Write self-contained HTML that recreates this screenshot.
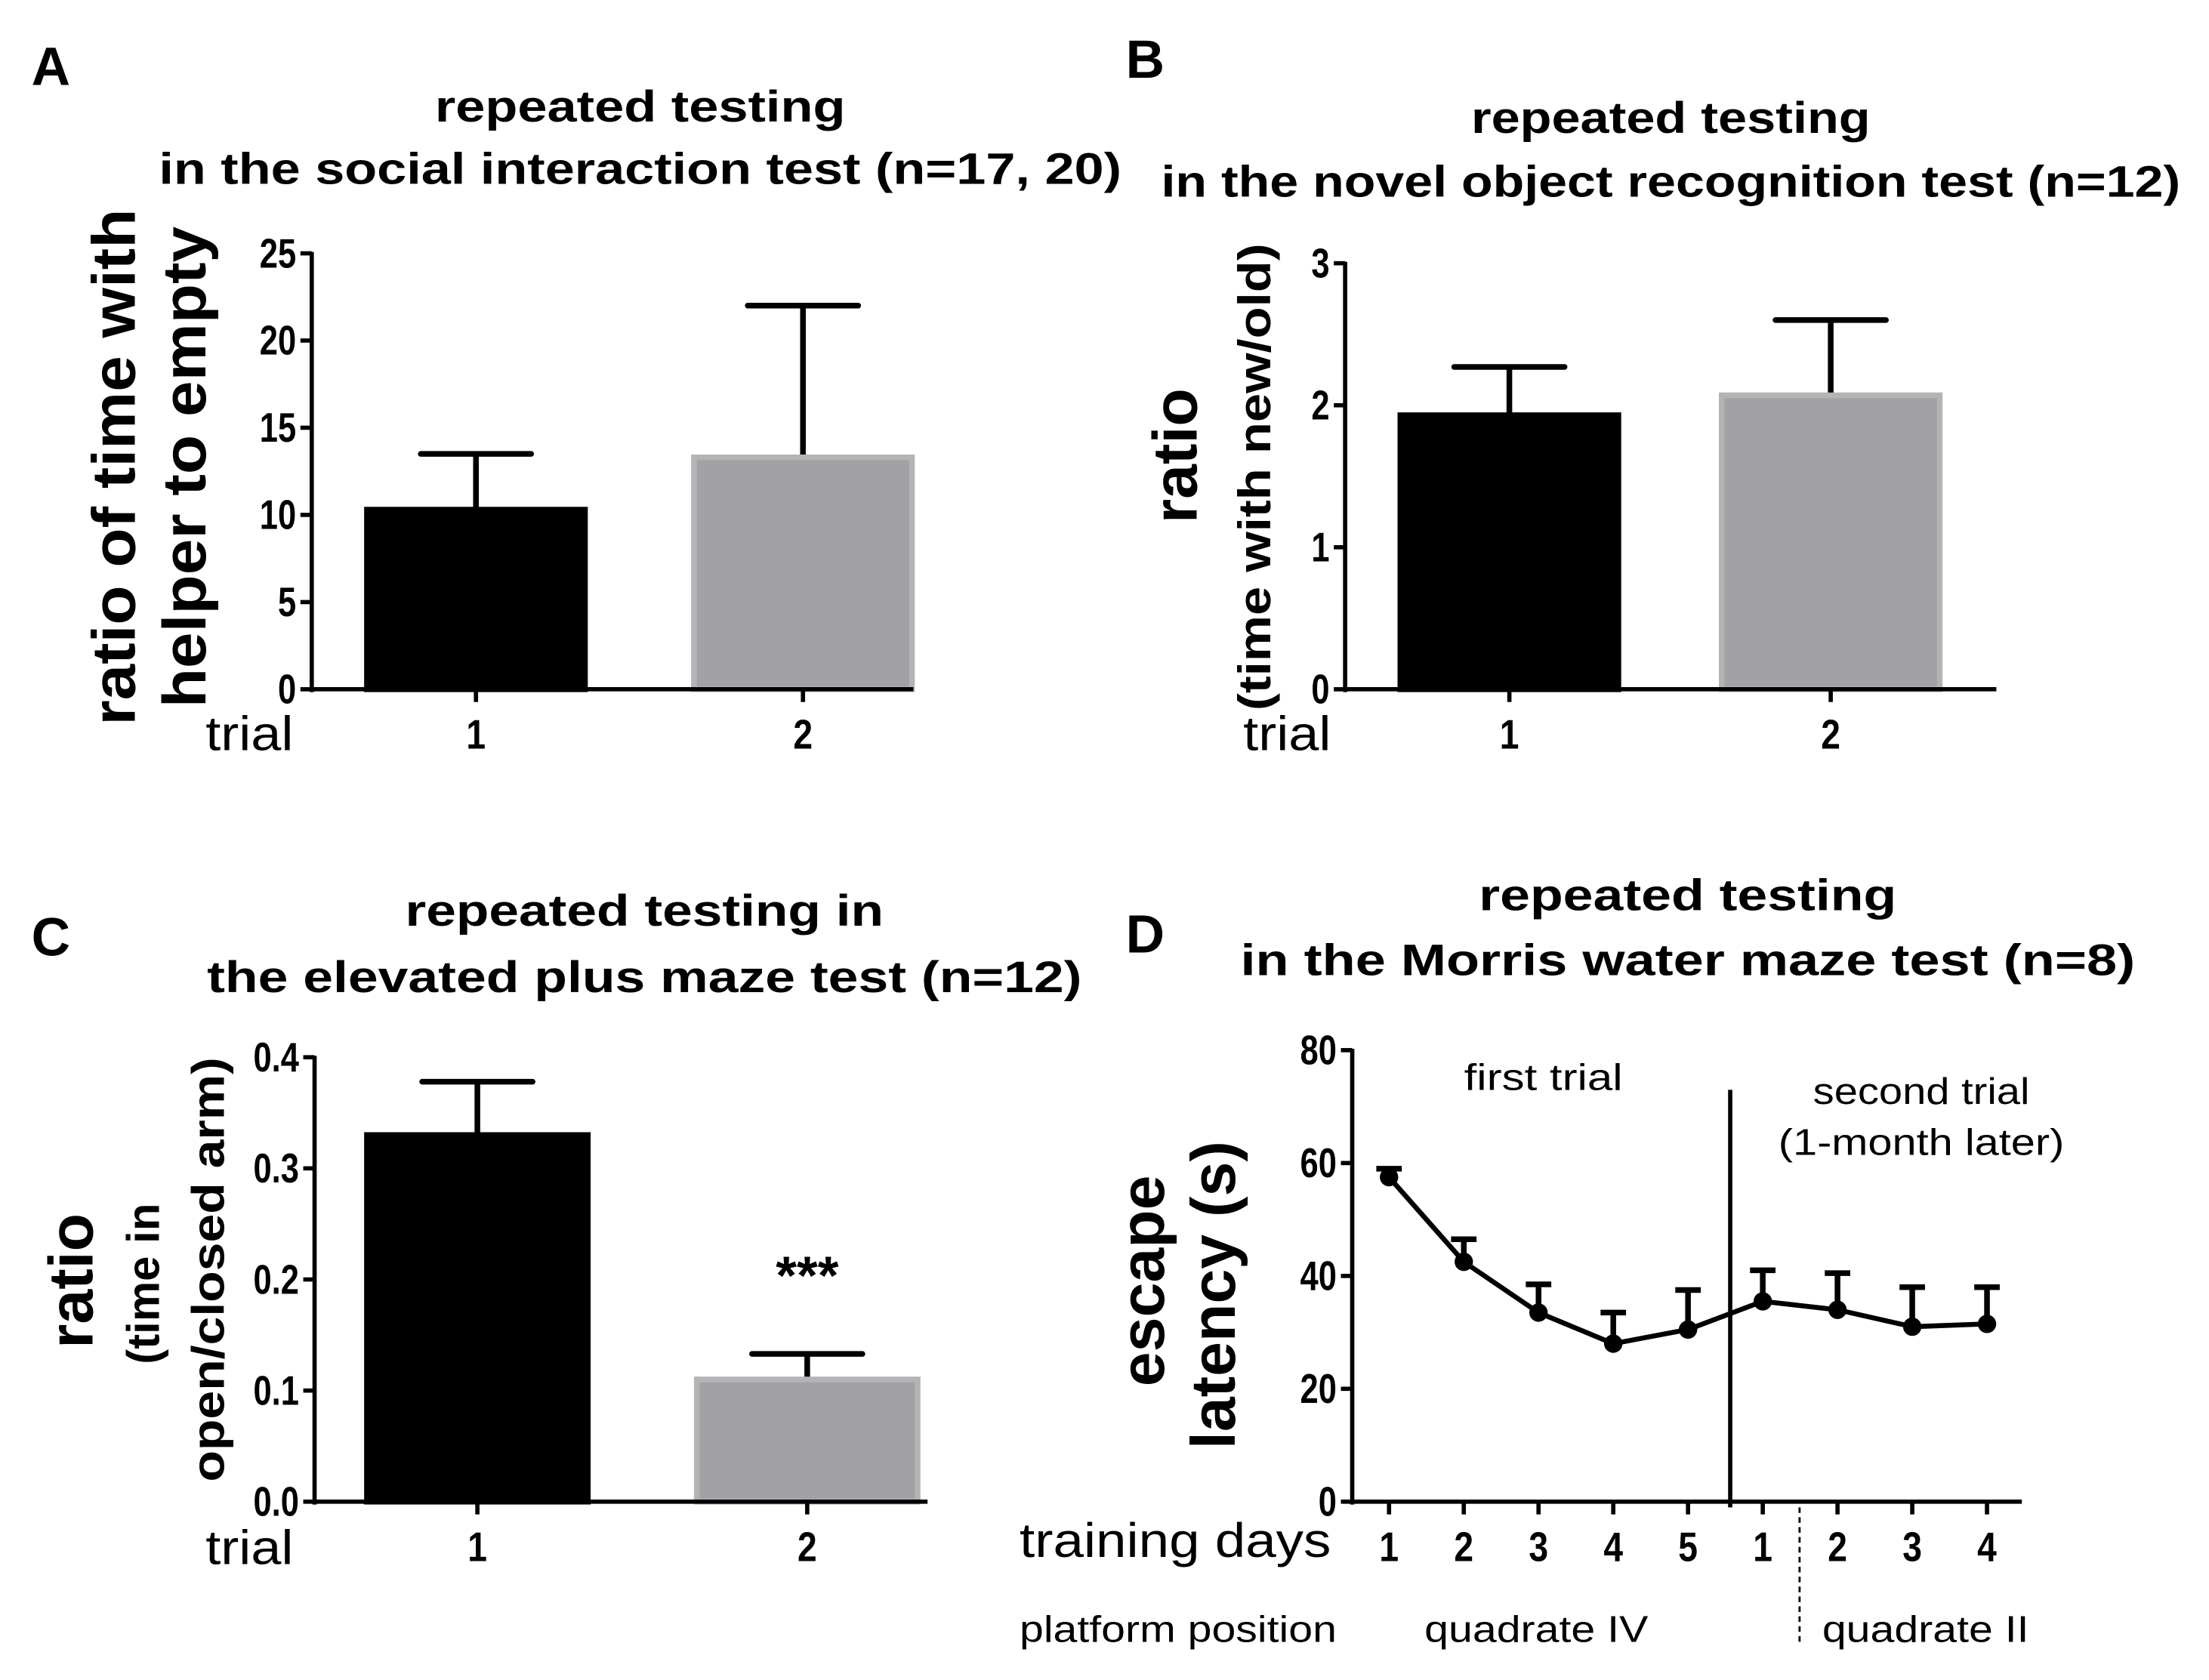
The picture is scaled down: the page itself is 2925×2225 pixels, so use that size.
<!DOCTYPE html>
<html><head><meta charset="utf-8"><style>
html,body{margin:0;padding:0;background:#fff}
svg{display:block}
text{font-family:"Liberation Sans",sans-serif;fill:#000}
.b{font-weight:bold}
</style></head><body>
<svg id="fig" width="2925" height="2225" viewBox="0 0 1560 1187" xmlns="http://www.w3.org/2000/svg">
<g id="static">
<!-- Panel A -->
<text class="b" x="22" y="60" font-size="38">A</text>
<text class="b" x="452" y="86" font-size="31" text-anchor="middle" textLength="290" lengthAdjust="spacingAndGlyphs">repeated testing</text>
<text class="b" x="452" y="130" font-size="31" text-anchor="middle" textLength="680" lengthAdjust="spacingAndGlyphs">in the social interaction test (n=17, 20)</text>
<text class="b" font-size="43" text-anchor="middle" textLength="365" lengthAdjust="spacingAndGlyphs" transform="translate(95,330) rotate(-90)">ratio of time with</text>
<text class="b" font-size="43" text-anchor="middle" textLength="340" lengthAdjust="spacingAndGlyphs" transform="translate(145,330) rotate(-90)">helper to empty</text>
<text x="145" y="530" font-size="34" textLength="62" lengthAdjust="spacingAndGlyphs">trial</text>
<!-- Panel B -->
<text class="b" x="795" y="55" font-size="38">B</text>
<text class="b" x="1180" y="94" font-size="31" text-anchor="middle" textLength="282" lengthAdjust="spacingAndGlyphs">repeated testing</text>
<text class="b" x="1180" y="139" font-size="31" text-anchor="middle" textLength="720" lengthAdjust="spacingAndGlyphs">in the novel object recognition test (n=12)</text>
<text class="b" font-size="44" text-anchor="middle" transform="translate(845,322) rotate(-90)">ratio</text>
<text class="b" font-size="32" text-anchor="middle" textLength="330" lengthAdjust="spacingAndGlyphs" transform="translate(897,337) rotate(-90)">(time with new/old)</text>
<text x="878" y="530" font-size="34" textLength="62" lengthAdjust="spacingAndGlyphs">trial</text>
<!-- Panel C -->
<text class="b" x="22" y="675" font-size="38">C</text>
<text class="b" x="455" y="654" font-size="31" text-anchor="middle" textLength="338" lengthAdjust="spacingAndGlyphs">repeated testing in</text>
<text class="b" x="455" y="701" font-size="31" text-anchor="middle" textLength="618" lengthAdjust="spacingAndGlyphs">the elevated plus maze test (n=12)</text>
<text class="b" font-size="44" text-anchor="middle" transform="translate(65,905) rotate(-90)">ratio</text>
<text class="b" font-size="32" text-anchor="middle" transform="translate(112,907) rotate(-90)">(time in</text>
<text class="b" font-size="32" text-anchor="middle" textLength="300" lengthAdjust="spacingAndGlyphs" transform="translate(158,897) rotate(-90)">open/closed arm)</text>
<text x="145" y="1105" font-size="34" textLength="62" lengthAdjust="spacingAndGlyphs">trial</text>
<text class="b" x="570" y="914" font-size="38" text-anchor="middle">***</text>
<!-- Panel D -->
<text class="b" x="795" y="673" font-size="38">D</text>
<text class="b" x="1192" y="643" font-size="31" text-anchor="middle" textLength="295" lengthAdjust="spacingAndGlyphs">repeated testing</text>
<text class="b" x="1192" y="689" font-size="31" text-anchor="middle" textLength="632" lengthAdjust="spacingAndGlyphs">in the Morris water maze test (n=8)</text>
<text class="b" font-size="44" text-anchor="middle" transform="translate(822,905) rotate(-90)">escape</text>
<text class="b" font-size="44" text-anchor="middle" transform="translate(872,915) rotate(-90)">latency (s)</text>
<text x="720" y="1100" font-size="34" textLength="220" lengthAdjust="spacingAndGlyphs">training days</text>
<text x="720" y="1160" font-size="26" textLength="224" lengthAdjust="spacingAndGlyphs">platform position</text>
<text x="1085" y="1160" font-size="26" text-anchor="middle" textLength="158" lengthAdjust="spacingAndGlyphs">quadrate IV</text>
<text x="1360" y="1160" font-size="26" text-anchor="middle" textLength="146" lengthAdjust="spacingAndGlyphs">quadrate II</text>
<text x="1090" y="770" font-size="26" text-anchor="middle" textLength="112" lengthAdjust="spacingAndGlyphs">first trial</text>
<text x="1357" y="780" font-size="26" text-anchor="middle" textLength="153" lengthAdjust="spacingAndGlyphs">second trial</text>
<text x="1357" y="816" font-size="26" text-anchor="middle" textLength="202" lengthAdjust="spacingAndGlyphs">(1-month later)</text>
<line x1="1222" y1="770" x2="1222" y2="1065" stroke="#000" stroke-width="3"/>
<line x1="1271" y1="1065" x2="1271" y2="1160" stroke="#000" stroke-width="1.5" stroke-dasharray="4,3"/>
</g>
<g id="marks"></g>
</svg>
<script>
// Panel A data
const aCats = ["1", "2"];
const aValues = [10.3, 13.3];
const aErrTop = [13.5, 22];
const aTicks = [0, 5, 10, 15, 20, 25];
const aTickLabels = ["0", "5", "10", "15", "20", "25"];
// Panel B data
const bCats = ["1", "2"];
const bValues = [1.93, 2.07];
const bErrTop = [2.27, 2.6];
const bTicks = [0, 1, 2, 3];
const bTickLabels = ["0", "1", "2", "3"];
// Panel C data
const cCats = ["1", "2"];
const cValues = [0.33, 0.11];
const cErrTop = [0.378, 0.133];
const cTicks = [0, 0.1, 0.2, 0.3, 0.4];
const cTickLabels = ["0.0", "0.1", "0.2", "0.3", "0.4"];
// Panel D data
const dDays = ["1", "2", "3", "4", "5", "1", "2", "3", "4"];
const dValues = [57.5, 42.5, 33.5, 28, 30.5, 35.5, 34, 31, 31.5];
const dErrTop = [59, 46.5, 38.5, 33.5, 37.5, 41, 40.5, 38, 38];
const dTicks = [0, 20, 40, 60, 80];
const dTickLabels = ["0", "20", "40", "60", "80"];

const NS = "http://www.w3.org/2000/svg";
const root = document.getElementById("marks");
function mk(tag, attrs, parent) {
  const e = document.createElementNS(NS, tag);
  for (const k in attrs) e.setAttribute(k, attrs[k]);
  (parent || root).appendChild(e);
  return e;
}
function linear(d0, d1, r0, r1) { return v => r0 + (v - d0) / (d1 - d0) * (r1 - r0); }

function yAxis(p, ticks, labels, y, axisName) {
  const g = mk("g", {});
  
  
  const l = mk("line", {x1: p.x0, x2: p.x0, y1: y(ticks[ticks.length - 1]) - 1, y2: p.yb + 2, stroke: "#000", "stroke-width": 3}, g);
  
  
  ticks.forEach((t, i) => {
    const tk = mk("line", {x1: p.x0 - 8, x2: p.x0, y1: y(t), y2: y(t), stroke: "#000", "stroke-width": 3}, g);
    
    
    const tx = mk("text", {x: p.x0 - 11, y: y(t) + 10, "font-size": 29, "font-weight": "bold", "text-anchor": "end", transform: `translate(${p.x0 - 11},0) scale(0.8,1) translate(${-(p.x0 - 11)},0)`}, g);
    tx.textContent = labels[i];
    
    
  });
}
function xAxisLine(p, name) {
  const l = mk("line", {x1: p.x0 - 1, x2: p.x1, y1: p.yb, y2: p.yb, stroke: "#000", "stroke-width": 3});
  
  
}
function xLabel(x, yb, label, ticked) {
  if (ticked) {
    const tk = mk("line", {x1: x, x2: x, y1: yb, y2: yb + 9, stroke: "#000", "stroke-width": 3});
    
    
  }
  const t = mk("text", {x: x, y: yb + 42, "font-size": 29, "font-weight": "bold", "text-anchor": "middle", transform: `translate(${x},0) scale(0.85,1) translate(${-x},0)`});
  t.textContent = label;
  
  
}

function barPanel(p, cats, vals, errs, ticks, labels, name) {
  const y = linear(0, ticks[ticks.length - 1], p.yb, p.yt);
  const fills = ["#000", "#a2a1a6"], strokes = ["#000", "#b4b4b6"];
  cats.forEach((c, i) => {
    const cx = p.cx[i];
    const eb = mk("line", {x1: cx, x2: cx, y1: y(vals[i]), y2: y(errs[i]), stroke: "#000", "stroke-width": 4});
    
    
    const cap = mk("line", {x1: cx - 39, x2: cx + 39, y1: y(errs[i]), y2: y(errs[i]), stroke: "#000", "stroke-width": 4, "stroke-linecap": "round"});
    
    
    const r = mk("rect", {x: cx - p.bw / 2, y: y(vals[i]), width: p.bw, height: p.yb - y(vals[i]), fill: fills[i], stroke: strokes[i], "stroke-width": 4});
    
    
  });
  xAxisLine(p, name + '-x-axis');
  cats.forEach((c, i) => xLabel(p.cx[i], p.yb, c, true));
  yAxis(p, ticks, labels, y, name + '-y-axis');
}

barPanel({x0: 220, x1: 645, yb: 487, yt: 179, cx: [336, 567], bw: 154}, aCats, aValues, aErrTop, aTicks, aTickLabels, "panel-a");
barPanel({x0: 950, x1: 1410, yb: 487, yt: 186, cx: [1066, 1293], bw: 154}, bCats, bValues, bErrTop, bTicks, bTickLabels, "panel-b");
barPanel({x0: 222, x1: 655, yb: 1061, yt: 747, cx: [337, 570], bw: 156}, cCats, cValues, cErrTop, cTicks, cTickLabels, "panel-c");

// Panel D line chart
(function () {
  const p = {x0: 955, x1: 1428, yb: 1061, yt: 742};
  const y = linear(0, 80, p.yb, p.yt);
  const x = i => 981 + i * 52.8;
  dDays.forEach((d, i) => {
    const eb = mk("line", {x1: x(i), x2: x(i), y1: y(dValues[i]), y2: y(dErrTop[i]), stroke: "#000", "stroke-width": 4});
    
    
    const cap = mk("line", {x1: x(i) - 9, x2: x(i) + 9, y1: y(dErrTop[i]), y2: y(dErrTop[i]), stroke: "#000", "stroke-width": 4});
    
    
  });
  const pl = mk("polyline", {points: dValues.map((v, i) => x(i) + "," + y(v)).join(" "), fill: "none", stroke: "#000", "stroke-width": 3.5});
  
  
  dValues.forEach((v, i) => {
    const c = mk("circle", {cx: x(i), cy: y(v), r: 6.5, fill: "#000"});
    
    
  });
  xAxisLine(p, 'panel-d-x-axis');
  dDays.forEach((d, i) => xLabel(x(i), p.yb, d, true));
  yAxis(p, dTicks, dTickLabels, y, 'panel-d-y-axis');
})();
</script>
</body></html>
